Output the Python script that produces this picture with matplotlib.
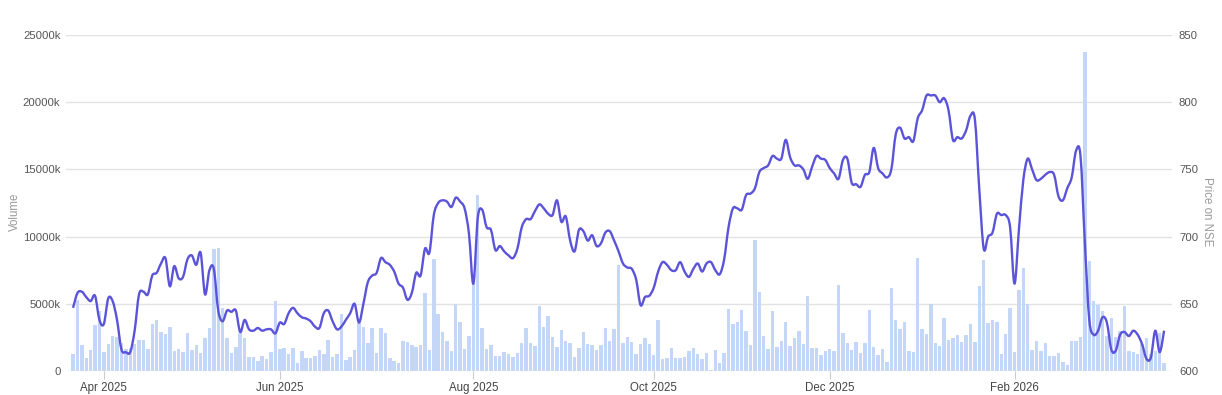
import matplotlib.pyplot as plt
import numpy as np
import pandas as pd
from matplotlib.path import Path
from matplotlib.patches import PathPatch

plt.rcParams['font.family'] = ['Liberation Sans', 'DejaVu Sans']

# NSE closed days in the window, plus the Sunday budget session
holidays = ['2025-03-31', '2025-04-10', '2025-04-14', '2025-04-18', '2025-05-01',
            '2025-08-15', '2025-08-27', '2025-10-02', '2025-10-22', '2025-11-05',
            '2025-12-25', '2026-01-15', '2026-01-26', '2026-03-03']
special_sessions = ['2026-02-01']

# daily traded volume, thousands of shares
volume_k = [
    1270, 5300, 1940, 1000, 1570, 3440, 4480, 1440, 2000, 2640, 2560, 2100, 1620, 1720, 2020,
    2270, 2270, 1620, 3510, 3810, 2890, 2740, 3260, 1490, 1670, 1440, 2840, 1540, 1920, 1320,
    2440, 3210, 9110, 9160, 4680, 2440,
    1320, 1770, 2860, 2440, 1020, 1020, 770, 1150, 920, 1390, 5180, 1640, 1740, 1270, 1690,
    570, 1490, 950, 950, 1100, 1540, 1250, 2290, 1050, 1250, 4230, 820, 1070, 1590, 3560,
    3240, 2070, 3190, 1320, 3190, 2860, 950,
    780, 620, 2220, 2170, 1920, 1770, 1920, 5800, 1540, 8340, 4260, 2890, 2240, 1490, 4980,
    3640, 1620, 2590, 6470, 13100, 3190, 1670, 1940, 1150, 1120, 1420, 1270, 1050, 1320, 2090,
    3190, 2070, 1870, 4810, 3310, 4110,
    2560, 1820, 3040, 2220, 2090, 1020, 1740, 2890, 2020, 1920, 1570, 1940, 3190, 2220, 3160,
    7870, 2120, 2540, 2140, 1250, 2020, 2490, 1990, 1170, 3810, 900, 950, 1690, 1000, 950,
    1020, 1470, 1740, 1270, 870, 1320,
    80, 1540, 570, 1370, 4600, 3510, 3610, 4530, 2940, 1940, 9750, 5870, 2610, 1670, 4430,
    1770, 2240, 3660, 1870, 2460, 3010, 2010, 5600, 1690, 1690, 1170, 1520, 1620, 1490, 6370,
    2860, 2070, 1570, 2160, 1320, 2090, 4550,
    1820, 1170, 1670, 700, 6170, 3810, 3110, 3610, 1490, 1390, 8380, 3110, 2740, 4950, 2070,
    1870, 3980, 2310, 2490, 2660, 2190, 2660, 3480, 2190, 6340, 8230, 3560, 3810, 3680, 1270,
    2760, 4680, 1420, 6000, 7660, 4980,
    1570, 2240, 1490, 2060, 1120, 1120, 1320, 700, 450, 2240, 2240, 2560, 23760, 8210, 5220,
    4930, 4430, 2640, 3930, 2560, 2990, 4800, 1490, 1390, 1270, 2010, 2490, 1270, 1520, 2860,
    620,
]

# closing price on NSE
price = [
    647, 658, 659, 655, 652, 656, 638, 635, 654, 652, 638, 616, 614, 614, 630,
    657, 659, 657, 671, 673, 680, 684, 663, 678, 669, 670, 683, 686, 679, 688,
    657, 675, 676, 645, 637, 645, 644,
    645, 629, 638, 631, 630, 632, 630, 631, 631, 628, 636, 635, 643, 647, 643,
    640, 639, 637, 633, 632, 643, 645, 637, 631, 633, 638, 643, 650, 636, 650,
    666, 671, 673, 684, 681, 679,
    674, 665, 662, 653, 658, 673, 671, 691, 688, 716, 725, 727, 726, 722, 729,
    726, 721, 702, 665, 714, 720, 707, 705, 690, 693, 689, 686, 684, 691, 707,
    713, 713, 719, 724, 721, 717,
    716, 727, 711, 715, 697, 689, 705, 704, 697, 701, 693, 695, 703, 704, 697,
    689, 680, 677, 676, 668, 649, 655, 656, 662, 674, 681, 679, 675, 675, 681,
    674, 670, 676, 680, 674, 680,
    681, 675, 672, 683, 707, 721, 721, 720, 731, 732, 736, 748, 751, 753, 760,
    758, 758, 772, 759, 753, 753, 750, 743, 752, 760, 758, 757, 751, 747, 743,
    757, 758, 740, 739, 737, 746, 748,
    766, 751, 747, 744, 750, 776, 781, 773, 774, 771, 788, 794, 805, 805, 805,
    800, 803, 794, 772, 774, 773, 779, 790, 787, 735, 691, 700, 703, 717, 716,
    716, 707, 665, 705, 742, 758,
    750, 742, 743, 746, 748, 746, 730, 727, 736, 744, 764, 760, 695, 638, 627,
    630, 640, 636, 616, 615, 627, 629, 626, 630, 627, 620, 609, 610, 630, 614,
    630,
]

dates = pd.bdate_range('2025-03-20', '2026-03-20')
dates = dates.drop(pd.to_datetime(holidays)).union(pd.to_datetime(special_sessions))
x = np.arange(len(dates))

W, H = 1222, 395
fig = plt.figure(figsize=(W / 100, H / 100), dpi=100)
ax = fig.add_axes([66 / W, 24 / H, (1172 - 66) / W, 336 / H])

ax.bar(x, volume_k, width=0.78, color='#c4d7f8', zorder=2)
ax.set_ylim(0, 25000)
ax.set_yticks(range(0, 25001, 5000))
ax.set_yticklabels(['0' if v == 0 else f'{v}k' for v in range(0, 25001, 5000)])
ax.set_xlim(-1.6, len(x) - 1 + 1.8)
ax.yaxis.grid(True, color='#e2e2e2', lw=1)
ax.set_axisbelow(True)
for s in ax.spines.values():
    s.set_visible(False)
ax.tick_params(axis='y', length=0, pad=4, labelsize=8.2, labelcolor='#555555')

# month ticks: first session of every other month starting April
month_id = dates.year * 12 + dates.month
first = np.r_[True, month_id[1:] != month_id[:-1]]
tick_idx = [i for i in x if first[i] and (dates[i].month - 4) % 2 == 0]
ax.set_xticks(tick_idx)
ax.set_xticklabels([dates[i].strftime('%b %Y') for i in tick_idx])
ax.tick_params(axis='x', length=6, width=0.8, color='#cccccc', pad=2,
               labelsize=8.3, labelcolor='#444444')

ax2 = ax.twinx()
ax2.set_ylim(600, 850)
ax2.set_yticks(range(600, 851, 50))
for s in ax2.spines.values():
    s.set_visible(False)
ax2.tick_params(axis='y', length=0, pad=5, labelsize=8.2, labelcolor='#555555')

# smooth curve through the closes (cardinal spline as cubic bezier segments)
p = np.column_stack([x, price]).astype(float)
pp = np.vstack([p[:1], p, p[-1:]])
verts = [tuple(p[0])]
codes = [Path.MOVETO]
for i in range(len(p) - 1):
    c1 = pp[i + 1] + (pp[i + 2] - pp[i]) / 6
    c2 = pp[i + 2] - (pp[i + 3] - pp[i + 1]) / 6
    verts += [tuple(c1), tuple(c2), tuple(pp[i + 2])]
    codes += [Path.CURVE4] * 3
ax2.add_patch(PathPatch(Path(verts, codes), fill=False, edgecolor='#5b54d9',
                        lw=1.7, joinstyle='round', zorder=3))

fig.text(15 / W, 1 - 212 / H, 'Volume', rotation=90, ha='center', va='center',
         fontsize=8.3, color='#999999')
fig.text(1207 / W, 1 - 212 / H, 'Price on NSE', rotation=270, ha='center', va='center',
         fontsize=8.3, color='#999999')

fig.savefig('out.png', dpi=100)
